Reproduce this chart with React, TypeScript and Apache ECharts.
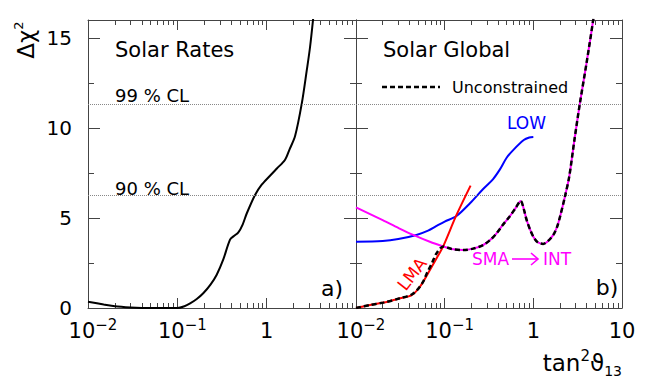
import React, { useEffect, useRef } from 'react';
import * as echarts from 'echarts';

// ---------- data ----------
// Left panel: Solar Rates
const ratesX = [0.01, 0.015, 0.02, 0.03, 0.04, 0.06, 0.1, 0.12, 0.139, 0.165, 0.195, 0.235, 0.276, 0.327, 0.389, 0.43, 0.482, 0.54, 0.598, 0.741, 0.88, 1.09, 1.3, 1.6, 1.8, 2.08, 2.47, 2.81, 3.06, 3.35];
const ratesY = [0.35, 0.2, 0.1, 0.03, 0.005, 0, 0, 0.1, 0.26, 0.5, 0.82, 1.3, 1.85, 2.7, 3.8, 4.0, 4.2, 4.65, 5.25, 6.28, 6.85, 7.35, 7.75, 8.22, 8.8, 9.55, 11.35, 13.2, 14.5, 16.3];

// Right panel: Solar Global
const uncX = [0.01, 0.0144, 0.0204, 0.0313, 0.0425, 0.05, 0.057, 0.063, 0.072, 0.081, 0.0965, 0.12, 0.162, 0.21, 0.272, 0.33, 0.385, 0.45, 0.544, 0.63, 0.72, 0.78, 0.84, 0.92, 1.0, 1.12, 1.29, 1.45, 1.68, 1.85, 2.0, 2.27, 2.54, 2.9, 3.35, 3.98, 4.73, 5.0];
const uncY = [0, 0.17, 0.3, 0.54, 0.75, 1.05, 1.45, 1.93, 2.5, 3.04, 3.42, 3.28, 3.22, 3.3, 3.5, 3.8, 4.15, 4.6, 5.1, 5.55, 5.95, 5.5, 4.89, 4.35, 3.96, 3.65, 3.56, 3.7, 4.06, 4.5, 5.07, 6.18, 7.3, 9.3, 11.37, 13.6, 16, 17];

const lmaX = [0.01, 0.0144, 0.0204, 0.0313, 0.0425, 0.0526, 0.0682, 0.085, 0.0965, 0.136, 0.196];
const lmaY = [0, 0.17, 0.3, 0.54, 0.72, 1.18, 2.11, 2.94, 3.44, 5.17, 6.8];

const smaHeadX = [0.01, 0.02, 0.03, 0.0442, 0.068];
const smaHeadY = [5.59, 4.88, 4.45, 4.06, 3.68];

const lowX = [0.01, 0.02, 0.03, 0.048, 0.065, 0.081, 0.1, 0.136, 0.193, 0.27, 0.35, 0.42, 0.5, 0.6, 0.78, 0.9, 1.0];
const lowY = [3.68, 3.72, 3.83, 4.06, 4.3, 4.56, 4.8, 5.11, 5.82, 6.6, 7.15, 7.7, 8.35, 8.8, 9.33, 9.47, 9.5];

const clLevels = [6.25, 11.34];
const yMajorTicks = [0, 5, 10, 15];
const yMinorTicks = [2.5, 7.5, 12.5];
const minorMultipliers = [2, 3, 4, 5, 6, 7, 8, 9];
const decades = [-2, -1, 0];

// ---------- helpers ----------
const FONT = '"DejaVu Sans", sans-serif';
const AX = '#444';
const pairs = (xs: number[], ys: number[]) => xs.map((x, i) => [x, ys[i]]);
const minorExps: number[] = [];
decades.forEach((d) => minorMultipliers.forEach((m) => minorExps.push(d + Math.log10(m))));

function logAxis(grid: number, pos: string, labels: null | 'left' | 'right') {
  return {
    type: 'log',
    logBase: 10,
    gridIndex: grid,
    position: pos,
    min: 0.01,
    max: 10,
    axisLine: { show: true, onZero: false, lineStyle: { color: AX, width: 1 } },
    axisTick: { show: true, inside: true, length: 10, lineStyle: { color: AX, width: 1 } },
    minorTick: { show: false },
    splitLine: { show: false },
    axisLabel: labels
      ? {
          show: true,
          margin: 9,
          color: '#000',
          showMinLabel: true,
          showMaxLabel: true,
          formatter: (v: number) => {
            const e = Math.round(Math.log10(v));
            if (e === 1) return labels === 'left' ? '' : '{b|10}';
            if (e === 0) return '{b|1}';
            return `{bp|10}{s|\u2212${-e}}`;
          },
          rich: {
            b: { fontSize: 21, lineHeight: 28, fontFamily: FONT, color: '#000' },
            bp: { fontSize: 21, lineHeight: 28, fontFamily: FONT, color: '#000', padding: [0, 0, 0, 10] },
            s: { fontSize: 15, lineHeight: 15, fontFamily: FONT, color: '#000', verticalAlign: 'top' },
          },
        }
      : { show: false },
  };
}

function minorXAxis(grid: number, pos: string) {
  return {
    type: 'value',
    gridIndex: grid,
    position: pos,
    min: -2,
    max: 1,
    axisLine: { show: false, onZero: false },
    axisTick: { show: true, inside: true, length: 5, customValues: minorExps, lineStyle: { color: AX, width: 1 } },
    axisLabel: { show: false },
    splitLine: { show: false },
  };
}

function yAxis(grid: number, pos: string, major: boolean, labels: boolean) {
  return {
    type: 'value',
    gridIndex: grid,
    position: pos,
    min: 0,
    max: 16,
    axisLine: { show: major, onZero: false, lineStyle: { color: AX, width: 1 } },
    axisTick: {
      show: true,
      inside: true,
      length: major ? 12 : 6,
      customValues: major ? yMajorTicks : yMinorTicks,
      lineStyle: { color: AX, width: 1 },
    },
    axisLabel: labels
      ? { show: true, customValues: yMajorTicks, fontSize: 20, fontFamily: FONT, color: '#000', margin: 16 }
      : { show: false },
    splitLine: { show: false },
  };
}

const clMarkLine = {
  silent: true,
  symbol: 'none',
  label: { show: false },
  lineStyle: { type: 'dotted', color: '#888', width: 1 },
  data: clLevels.map((v) => ({ yAxis: v })),
};

function txt(text: string, x: number, y: number, size: number, color = '#000', align = 'left', extra: any = {}) {
  return {
    type: 'text',
    x,
    y,
    z: 10,
    ...extra,
    style: {
      text,
      fontSize: size,
      fontFamily: FONT,
      fill: color,
      align,
      textAlign: align,
      verticalAlign: 'middle',
      textVerticalAlign: 'middle',
      ...(extra.style || {}),
    },
  };
}

export default function App() {
  const ref = useRef<HTMLDivElement>(null);
  useEffect(() => {
    if (!ref.current) return;
    const chart = echarts.init(ref.current, undefined, { renderer: 'svg' });
    const smaData = pairs(smaHeadX, smaHeadY).concat(pairs(uncX.slice(10), uncY.slice(10)));
    const option: any = {
      animation: false,
      backgroundColor: '#fff',
      grid: [
        { left: 88, top: 20, width: 268, height: 288, containLabel: false, outerBoundsMode: 'none' },
        { left: 356, top: 20, width: 266, height: 288, containLabel: false, outerBoundsMode: 'none' },
      ],
      xAxis: [
        logAxis(0, 'bottom', 'left'),
        minorXAxis(0, 'bottom'),
        logAxis(0, 'top', null),
        minorXAxis(0, 'top'),
        logAxis(1, 'bottom', 'right'),
        minorXAxis(1, 'bottom'),
        logAxis(1, 'top', null),
        minorXAxis(1, 'top'),
      ],
      yAxis: [
        yAxis(0, 'left', true, true),
        yAxis(0, 'left', false, false),
        yAxis(0, 'right', true, false),
        yAxis(0, 'right', false, false),
        yAxis(1, 'left', true, false),
        yAxis(1, 'left', false, false),
        yAxis(1, 'right', true, false),
        yAxis(1, 'right', false, false),
      ],
      series: [
        {
          name: 'Solar Rates',
          type: 'line',
          xAxisIndex: 0,
          yAxisIndex: 0,
          data: pairs(ratesX, ratesY),
          showSymbol: false,
          smooth: 0.3,
          lineStyle: { color: '#000', width: 2 },
          markLine: clMarkLine,
          z: 3,
        },
        {
          name: 'LOW',
          type: 'line',
          xAxisIndex: 4,
          yAxisIndex: 4,
          data: pairs(lowX, lowY),
          showSymbol: false,
          smooth: 0.3,
          lineStyle: { color: '#0000ff', width: 2 },
          markLine: clMarkLine,
          z: 3,
        },
        {
          name: 'SMA',
          type: 'line',
          xAxisIndex: 4,
          yAxisIndex: 4,
          data: smaData,
          showSymbol: false,
          smooth: 0.3,
          lineStyle: { color: '#ff00ff', width: 2 },
          z: 4,
        },
        {
          name: 'LMA',
          type: 'line',
          xAxisIndex: 4,
          yAxisIndex: 4,
          data: pairs(lmaX, lmaY),
          showSymbol: false,
          smooth: 0.3,
          lineStyle: { color: '#ff0000', width: 2 },
          z: 5,
        },
        {
          name: 'Unconstrained',
          type: 'line',
          xAxisIndex: 4,
          yAxisIndex: 4,
          data: pairs(uncX, uncY),
          showSymbol: false,
          smooth: 0.3,
          lineStyle: { color: '#000', width: 2.5, type: [5, 3] },
          z: 6,
        },
      ],
      graphic: [
        txt('Solar Rates', 115, 50, 21),
        txt('99 % CL', 115, 95, 18),
        txt('90 % CL', 115, 188, 18),
        txt('a)', 332, 288, 22, '#000', 'center'),
        txt('Solar Global', 383, 50, 21),
        {
          type: 'line',
          z: 10,
          shape: { x1: 382, y1: 87, x2: 440, y2: 87 },
          style: { stroke: '#000', lineWidth: 2.5, lineDash: [5, 3] },
        },
        txt('Unconstrained', 452, 87, 16),
        txt('LOW', 507, 123, 17, '#0000ff'),
        txt('SMA', 472, 259, 17, '#ff00ff'),
        {
          type: 'line',
          z: 10,
          shape: { x1: 512, y1: 259, x2: 538, y2: 259 },
          style: { stroke: '#ff00ff', lineWidth: 1.6 },
        },
        {
          type: 'polyline',
          z: 10,
          shape: { points: [[531, 253], [538, 259], [531, 265]] },
          style: { stroke: '#ff00ff', lineWidth: 1.6, fill: 'none' },
        },
        txt('INT', 543, 259, 17, '#ff00ff'),
        txt('LMA', 412, 274, 17, '#ff0000', 'center', { rotation: (52 * Math.PI) / 180 }),
        txt('b)', 607, 287, 22, '#000', 'center'),
        {
          type: 'text',
          x: 26,
          y: 40,
          rotation: Math.PI / 2,
          z: 10,
          style: {
            text: '{a|\u0394\u03c7}{s|2}',
            align: 'center',
            textAlign: 'center',
            verticalAlign: 'middle',
            textVerticalAlign: 'middle',
            rich: {
              a: { fontSize: 23, lineHeight: 28, fontFamily: FONT, fill: '#000', color: '#000' },
              s: { fontSize: 13, lineHeight: 13, fontFamily: FONT, fill: '#000', color: '#000', verticalAlign: 'top' },
            },
          },
        },
        {
          type: 'text',
          x: 622,
          y: 363,
          z: 10,
          style: {
            text: '{a|tan}{sup|2}{a|\u03d1}{sub|13}',
            align: 'right',
            textAlign: 'right',
            verticalAlign: 'middle',
            textVerticalAlign: 'middle',
            rich: {
              a: { fontSize: 23, lineHeight: 30, fontFamily: FONT, fill: '#000', color: '#000' },
              sup: { fontSize: 15, lineHeight: 15, fontFamily: FONT, fill: '#000', color: '#000', verticalAlign: 'top' },
              sub: { fontSize: 14, lineHeight: 14, fontFamily: FONT, fill: '#000', color: '#000', verticalAlign: 'bottom' },
            },
          },
        },
      ],
    };
    chart.setOption(option);
    return () => chart.dispose();
  }, []);
  return <div ref={ref} style={{ position: 'fixed', left: 0, top: 0, width: 654, height: 382 }} />;
}
